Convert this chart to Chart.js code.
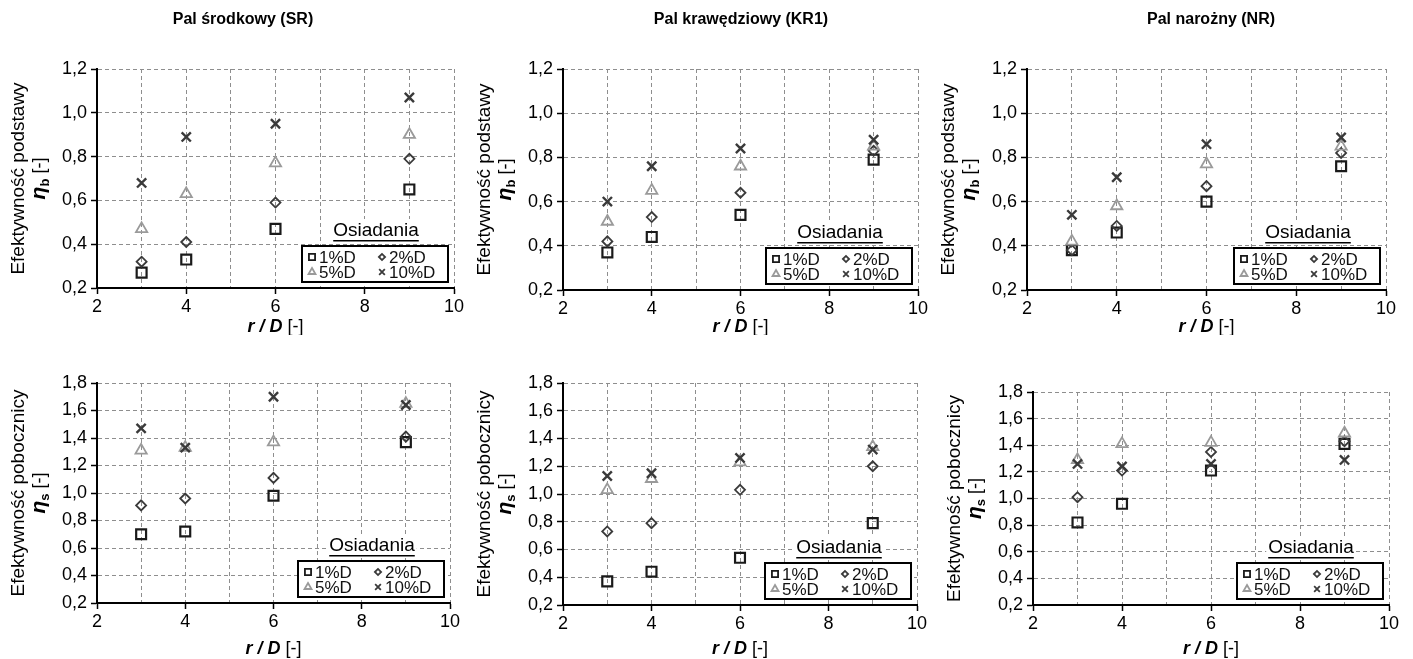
<!DOCTYPE html>
<html><head><meta charset="utf-8">
<script src="https://cdn.jsdelivr.net/npm/chart.js@4.4.1/dist/chart.umd.min.js"></script>
<style>
html,body{margin:0;padding:0;background:#fff;width:1413px;height:659px;overflow:hidden;position:relative;}
canvas{position:absolute;}
</style></head><body>
<canvas id="c1"></canvas><canvas id="c2"></canvas><canvas id="c3"></canvas>
<canvas id="c4"></canvas><canvas id="c5"></canvas><canvas id="c6"></canvas>
<script>
// ---- data ----
const rD = [3, 4, 6, 9];
const xTickLabels = [2, 4, 6, 8, 10];
const seriesNames = ['1%D', '2%D', '5%D', '10%D'];
const panelTitles = ['Pal środkowy (SR)', 'Pal krawędziowy (KR1)', 'Pal narożny (NR)'];
const baseAxisTitle = 'Efektywność podstawy';
const shaftAxisTitle = 'Efektywność pobocznicy';
const legendTitle = 'Osiadania';

// base efficiency (eta_b)
const SR_b_1 = [0.27, 0.33, 0.47, 0.65];
const SR_b_2 = [0.32, 0.41, 0.59, 0.79];
const SR_b_5 = [0.47, 0.63, 0.77, 0.90];
const SR_b_10 = [0.68, 0.89, 0.95, 1.07];

const KR_b_1 = [0.37, 0.44, 0.54, 0.79];
const KR_b_2 = [0.42, 0.53, 0.64, 0.83];
const KR_b_5 = [0.51, 0.65, 0.76, 0.85];
const KR_b_10 = [0.60, 0.76, 0.84, 0.88];

const NR_b_1 = [0.38, 0.46, 0.60, 0.76];
const NR_b_2 = [0.38, 0.49, 0.67, 0.82];
const NR_b_5 = [0.42, 0.58, 0.77, 0.85];
const NR_b_10 = [0.54, 0.71, 0.86, 0.89];

// shaft efficiency (eta_s)
const SR_s_1 = [0.70, 0.72, 0.98, 1.37];
const SR_s_2 = [0.91, 0.96, 1.11, 1.41];
const SR_s_5 = [1.31, 1.33, 1.37, 1.65];
const SR_s_10 = [1.47, 1.33, 1.70, 1.64];

const KR_s_1 = [0.37, 0.44, 0.54, 0.79];
const KR_s_2 = [0.73, 0.79, 1.03, 1.20];
const KR_s_5 = [1.03, 1.11, 1.23, 1.34];
const KR_s_10 = [1.13, 1.15, 1.26, 1.32];

const NR_s_1 = [0.82, 0.96, 1.21, 1.41];
const NR_s_2 = [1.01, 1.21, 1.35, 1.43];
const NR_s_5 = [1.29, 1.41, 1.42, 1.49];
const NR_s_10 = [1.26, 1.24, 1.26, 1.29];

// ---- styles ----
const FF = '"Liberation Sans", Arial, sans-serif';
const markerStyles = [
  {ps: 'rect', r: 7, color: '#1a1a1a', w: 2.2},
  {ps: 'rectRot', r: 5, color: '#3a3a3a', w: 1.8},
  {ps: 'triangle', r: 6.5, color: '#9a9a9a', w: 1.8},
  {ps: 'crossRot', r: 6.5, color: '#3a3a3a', w: 2.4}
];

function drawRich(ctx, parts, x, y) {
  let total = 0;
  parts.forEach(p => { ctx.font = p.font; p.w = ctx.measureText(p.text).width; total += p.w; });
  let cur = x - total / 2;
  ctx.textAlign = 'left';
  ctx.textBaseline = 'alphabetic';
  parts.forEach(p => { ctx.font = p.font; ctx.fillText(p.text, cur, y + (p.dy || 0)); cur += p.w; });
}

const decor = {
  id: 'decor',
  afterDraw(chart, args, o) {
    const ctx = chart.ctx;
    const a = chart.chartArea;
    ctx.save();
    ctx.fillStyle = '#000';
    // panel title
    if (o.title) {
      ctx.font = 'bold 16px ' + FF;
      ctx.textAlign = 'center'; ctx.textBaseline = 'middle';
      ctx.fillText(o.title, o.titleX, o.titleY);
    }
    // y axis title (rotated, 2 lines)
    const cy = (a.top + a.bottom) / 2;
    ctx.save();
    ctx.translate(a.left - 73, cy);
    ctx.rotate(-Math.PI / 2);
    drawRich(ctx, [{text: o.yTitle, font: '19px ' + FF}], 0, 0);
    ctx.restore();
    ctx.save();
    ctx.translate(a.left - 52, cy);
    ctx.rotate(-Math.PI / 2);
    drawRich(ctx, [
      {text: 'η', font: 'bold italic 21px ' + FF},
      {text: o.ySub, font: 'bold 13px ' + FF, dy: 4},
      {text: ' [-]', font: '18px ' + FF}
    ], 0, 0);
    ctx.restore();
    // x axis title
    drawRich(ctx, [
      {text: 'r / D', font: 'bold italic 18px ' + FF},
      {text: ' [-]', font: '18px ' + FF}
    ], (a.left + a.right) / 2, o.xTitleY);
    // legend
    const bw = 146, bh = 36;
    const bx = a.right - 6 - bw, by = a.bottom - 6 - bh;
    ctx.fillStyle = '#fff';
    ctx.font = '19px ' + FF;
    const tw = ctx.measureText(legendTitle).width;
    const tcx = bx + 74, tcy = by - 15;
    ctx.fillRect(tcx - tw / 2 - 2, tcy - 12, tw + 4, 24);
    ctx.fillRect(bx, by, bw, bh);
    ctx.strokeStyle = '#000'; ctx.lineWidth = 2;
    ctx.strokeRect(bx, by, bw, bh);
    ctx.fillStyle = '#000';
    ctx.textAlign = 'center'; ctx.textBaseline = 'middle';
    ctx.fillText(legendTitle, tcx, tcy);
    ctx.fillRect(tcx - tw / 2, tcy + 9, tw, 1.5);
    ctx.font = '17px ' + FF;
    ctx.textAlign = 'left';
    const pos = [[bx + 10, by + 11], [bx + 80, by + 11], [bx + 10, by + 26], [bx + 80, by + 26]];
    seriesNames.forEach((n, i) => {
      const m = markerStyles[i];
      ctx.strokeStyle = m.color; ctx.lineWidth = 1.8; ctx.fillStyle = 'rgba(0,0,0,0)';
      Chart.helpers.drawPoint(ctx, {pointStyle: m.ps, radius: m.r * 0.62, borderWidth: 1.8, rotation: 0}, pos[i][0], pos[i][1]);
      ctx.fillStyle = '#111';
      ctx.fillText(n, pos[i][0] + 7, pos[i][1] + 1);
    });
    ctx.restore();
  }
};

const panels = [
  {id: 'c1', area: {left: 97, right: 454, top: 69, bottom: 288}, row: 0, title: panelTitles[0], titleX: 243, series: [SR_b_1, SR_b_2, SR_b_5, SR_b_10]},
  {id: 'c2', area: {left: 563, right: 918, top: 69, bottom: 290}, row: 0, title: panelTitles[1], titleX: 741, series: [KR_b_1, KR_b_2, KR_b_5, KR_b_10]},
  {id: 'c3', area: {left: 1027, right: 1386, top: 69, bottom: 290}, row: 0, title: panelTitles[2], titleX: 1211, series: [NR_b_1, NR_b_2, NR_b_5, NR_b_10]},
  {id: 'c4', area: {left: 97, right: 450, top: 383, bottom: 603}, row: 1, series: [SR_s_1, SR_s_2, SR_s_5, SR_s_10]},
  {id: 'c5', area: {left: 563, right: 917, top: 383, bottom: 605}, row: 1, series: [KR_s_1, KR_s_2, KR_s_5, KR_s_10]},
  {id: 'c6', area: {left: 1033, right: 1389, top: 392, bottom: 605}, row: 1, series: [NR_s_1, NR_s_2, NR_s_5, NR_s_10]}
];

const gridColor = '#8e8e8e';

panels.forEach(p => {
  const cv = document.getElementById(p.id);
  const L = p.area.left - 97;
  const R = Math.min(p.area.right + 22, 1413);
  const T = p.row === 0 ? 0 : 335;
  const B = p.row === 0 ? 335 : 659;
  cv.width = R - L; cv.height = B - T;
  cv.style.left = L + 'px'; cv.style.top = T + 'px';
  const yMin = 0.2, yMax = p.row === 0 ? 1.2 : 1.8;
  new Chart(cv, {
    type: 'scatter',
    data: {
      datasets: p.series.map((vals, i) => ({
        label: seriesNames[i],
        data: rD.map((x, j) => ({x: x, y: vals[j]})),
        pointStyle: markerStyles[i].ps,
        pointRadius: markerStyles[i].r,
        pointBorderWidth: markerStyles[i].w,
        borderColor: markerStyles[i].color,
        backgroundColor: 'rgba(255,255,255,0)',
        order: 3 - i
      }))
    },
    options: {
      responsive: false, animation: false, devicePixelRatio: 1,
      layout: {padding: {top: p.area.top - T, right: R - p.area.right, left: 0, bottom: 0}},
      plugins: {
        legend: {display: false}, tooltip: {enabled: false},
        decor: {
          title: p.title, titleX: p.titleX - L, titleY: 20,
          yTitle: p.row === 0 ? baseAxisTitle : shaftAxisTitle,
          ySub: p.row === 0 ? 'b' : 's',
          xTitleY: (p.row === 0 ? 332 : 654) - T
        }
      },
      scales: {
        x: {
          type: 'linear', min: 2, max: 10,
          afterFit: s => { s.height = B - p.area.bottom; },
          ticks: {stepSize: 1, autoSkip: false, maxRotation: 0, padding: 2, color: '#000',
            font: {family: FF, size: 18},
            callback: v => xTickLabels.includes(v) ? String(v) : ''},
          grid: {color: gridColor, lineWidth: 1, tickLength: 6,
            tickColor: c => (c.tick && xTickLabels.includes(c.tick.value)) ? '#000' : 'rgba(0,0,0,0)', tickWidth: 1.5},
          border: {color: '#000', width: 2, dash: [4, 3]}
        },
        y: {
          min: yMin, max: yMax,
          afterFit: s => { s.width = 97; },
          ticks: {stepSize: 0.2, padding: 4, color: '#000', font: {family: FF, size: 18},
            callback: v => v.toFixed(1).replace('.', ',')},
          grid: {color: gridColor, lineWidth: 1, tickLength: 6, tickColor: '#000', tickWidth: 1.5},
          border: {color: '#000', width: 2, dash: [4, 3]}
        }
      }
    },
    plugins: [decor]
  });
});
</script>
</body></html>
